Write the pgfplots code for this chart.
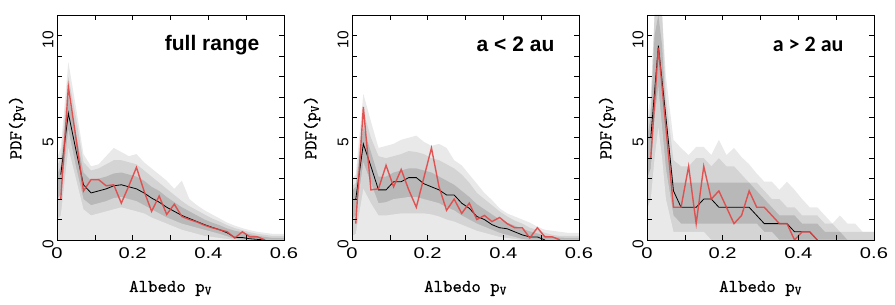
\documentclass[border=0pt]{standalone}
\usepackage{fontspec}
\usepackage{pgfplots}
\pgfplotsset{compat=1.18}
\usepackage{pgfplotstable}
\setmainfont{Liberation Sans}
\newfontfamily\xtickfont[FakeStretch=1.3]{Liberation Sans}
\newfontfamily\carlito{Carlito}
\newfontfamily\labfont[FakeBold=0.5]{lmmono10-regular.otf}
\definecolor{bandL}{gray}{0.915}
\definecolor{bandM}{gray}{0.83}
\definecolor{bandD}{gray}{0.72}
\definecolor{redl}{RGB}{226,70,70}

% ---------- panel 1: full range ----------
\pgfplotstableread{
x u3 u2 l2 u1 l1
0.00 4.0 3.6 1.0 3.2 2.0
0.01 4.5 4.0 1.2 3.6 2.2
0.03 8.7 8.0 4.5 7.0 5.4
0.05 6.5 6.0 3.0 5.2 3.6
0.07 4.2 3.8 1.5 3.3 2.0
0.09 3.6 3.4 1.2 2.9 1.7
0.11 3.7 3.5 1.3 3.0 1.8
0.13 4.1 3.7 1.4 3.1 1.9
0.15 4.5 3.9 1.5 3.25 2.05
0.17 4.3 3.9 1.6 3.3 2.1
0.19 4.1 3.8 1.5 3.2 2.0
0.21 4.2 3.7 1.4 3.1 1.9
0.23 3.8 3.4 1.3 2.9 1.7
0.25 3.5 3.1 1.1 2.6 1.5
0.27 3.2 2.8 0.95 2.4 1.3
0.29 2.9 2.5 0.8 2.1 1.1
0.31 2.5 2.2 0.65 1.85 0.95
0.33 2.9 1.9 0.5 1.6 0.8
0.35 2.0 1.65 0.4 1.4 0.7
0.37 1.7 1.45 0.3 1.2 0.6
0.39 1.45 1.25 0.2 1.0 0.5
0.41 1.25 1.05 0.15 0.85 0.4
0.43 1.05 0.9 0.1 0.72 0.3
0.45 0.85 0.72 0.05 0.56 0.18
0.47 0.7 0.58 0 0.45 0.05
0.49 0.58 0.48 0 0.38 0.02
0.51 0.48 0.38 0 0.28 0
0.53 0.4 0.3 0 0.2 0
0.55 0.35 0.25 0 0.15 0
0.57 0.3 0.2 0 0.1 0
0.59 0.3 0.2 0 0.1 0
0.60 0.3 0.2 0 0.1 0
}\bandA
\pgfplotstableread{
x blk red
0.01 3.2 2.0
0.03 6.2 7.5
0.05 4.4 5.0
0.07 2.7 2.4
0.09 2.3 2.95
0.11 2.4 2.95
0.13 2.5 2.65
0.15 2.65 2.7
0.17 2.7 1.8
0.19 2.6 2.65
0.21 2.5 3.55
0.23 2.3 2.4
0.25 2.05 1.4
0.27 1.85 2.15
0.29 1.6 1.25
0.31 1.4 1.75
0.33 1.2 1.15
0.35 1.05 1.0
0.37 0.9 0.88
0.39 0.75 0.72
0.41 0.62 0.6
0.43 0.5 0.5
0.45 0.35 0.4
0.47 0.12 0.1
0.49 0.12 0.4
0.51 0.06 0.15
0.53 0.03 0.15
0.55 0.0 0.0
}\lineA

% ---------- panel 2: a < 2 au ----------
\pgfplotstableread{
x u3 u2 l2 u1 l1
0.00 3.0 2.6 0.2 2.4 1.0
0.01 3.2 2.8 0.3 2.6 1.2
0.03 7.15 6.3 2.5 5.5 3.8
0.05 5.8 5.0 1.8 4.3 2.8
0.07 4.5 4.1 1.2 3.1 1.8
0.09 4.6 4.0 1.2 3.1 1.85
0.11 4.7 4.1 1.25 3.3 2.0
0.13 4.9 4.2 1.3 3.4 2.05
0.15 5.0 4.35 1.3 3.5 2.1
0.17 5.1 4.3 1.3 3.5 2.1
0.19 4.8 4.2 1.3 3.4 2.0
0.21 4.6 4.0 1.25 3.3 1.9
0.23 4.7 3.9 1.15 3.1 1.8
0.25 4.5 3.7 1.0 2.9 1.6
0.27 3.9 3.5 0.9 2.7 1.45
0.29 3.65 3.2 0.75 2.4 1.2
0.31 3.2 2.8 0.6 2.1 1.0
0.33 2.75 2.3 0.45 1.75 0.8
0.35 2.3 2.0 0.35 1.5 0.65
0.37 1.95 1.7 0.25 1.25 0.5
0.39 1.55 1.4 0.15 1.0 0.35
0.41 1.3 1.15 0.1 0.85 0.25
0.43 1.15 0.95 0.05 0.7 0.15
0.45 1.0 0.8 0 0.55 0.05
0.47 0.85 0.6 0 0.42 0
0.49 0.65 0.5 0 0.32 0
0.51 0.5 0.35 0 0.22 0
0.53 0.45 0.25 0 0.15 0
0.55 0.4 0.2 0 0.12 0
0.57 0.35 0.2 0 0.1 0
0.59 0.35 0.2 0 0.1 0
0.60 0.35 0.2 0 0.1 0
}\bandB
\pgfplotstableread{
x blk red
0.01 2.0 0.8
0.03 4.7 6.5
0.05 3.6 2.45
0.07 2.45 2.5
0.09 2.45 3.65
0.11 2.85 2.6
0.13 2.85 3.45
0.15 3.05 2.45
0.17 3.05 1.6
0.19 2.75 3.05
0.21 2.6 4.5
0.23 2.45 2.6
0.25 2.2 1.45
0.27 2.2 2.0
0.29 1.8 1.3
0.31 1.55 1.8
0.33 1.15 1.0
0.35 1.0 1.2
0.37 0.75 0.9
0.39 0.6 1.1
0.41 0.55 0.8
0.43 0.4 0.6
0.45 0.25 0.6
0.47 0.15 0.1
0.49 0.15 0.6
0.51 0.0 0.15
}\lineB
\pgfplotstableread{
x red
0.51 0.15
0.53 0.15
0.55 0.0
}\lineBtail

% ---------- panel 3: a > 2 au ----------
\pgfplotstableread{
x u3 u2 l2 u1 l1
0.00 6.0 5.5 1.5 5.0 3.0
0.01 7.0 6.5 2.0 6.0 3.5
0.02 11.0 11.0 4.0 10.0 6.0
0.03 11.0 11.0 5.5 11.0 7.5
0.04 11.0 11.0 4.0 9.5 5.5
0.05 8.0 7.0 2.0 6.0 3.5
0.07 4.9 3.9 0.4 2.8 1.2
0.09 4.5 3.6 0.4 2.8 0.8
0.11 4.15 3.6 0.4 2.8 0.8
0.13 4.55 4.0 0.4 2.8 0.8
0.15 4.55 4.0 0.4 2.8 0.8
0.17 4.15 3.6 0.0 2.8 0.8
0.19 4.9 4.0 0.0 2.8 0.8
0.21 4.15 3.6 0.0 2.8 0.8
0.23 4.5 3.6 0.0 2.8 0.8
0.25 4.05 3.2 0.0 2.8 0.8
0.27 3.7 2.8 0.0 2.8 0.8
0.29 3.25 2.8 0.0 2.4 0.8
0.31 2.85 2.4 0.0 2.0 0.4
0.33 2.85 2.0 0.0 1.6 0.4
0.35 2.45 2.0 0.0 1.2 0.0
0.37 2.85 1.6 0.0 1.2 0.0
0.39 2.45 1.6 0.0 1.2 0.0
0.41 2.0 1.2 0.0 0.8 0.0
0.43 1.6 1.2 0.0 0.8 0.0
0.45 1.6 1.2 0.0 0.8 0.0
0.47 1.2 0.8 0.0 0.4 0.0
0.49 0.8 0.8 0.0 0.4 0.0
0.51 1.2 0.4 0.0 0.4 0.0
0.53 0.8 0.4 0.0 0.0 0.0
0.55 0.8 0.4 0.0 0.0 0.0
0.57 0.4 0.4 0.0 0.0 0.0
0.59 0.4 0.4 0.0 0.0 0.0
0.60 0.4 0.4 0.0 0.0 0.0
}\bandC
\pgfplotstableread{
x blk red
0.01 5.0 4.0
0.03 9.5 9.4
0.05 6.0 5.5
0.07 2.4 1.6
0.09 1.6 1.6
0.11 1.6 3.6
0.13 1.6 0.8
0.15 2.0 3.6
0.17 2.0 2.0
0.19 1.6 2.4
0.21 1.6 1.6
0.23 1.6 0.8
0.25 1.6 1.2
0.27 1.6 2.4
0.29 1.2 1.6
0.31 0.8 1.6
0.33 0.8 1.2
0.35 0.8 0.8
0.37 0.8 0.8
0.39 0.4 0.0
0.41 0.4 0.4
0.43 0.4 0.4
0.45 0.0 0.0
}\lineC

\pgfplotsset{
  panel/.style={
    scale only axis, width=227pt, height=225pt,
    anchor=south west,
    xmin=0, xmax=0.6, ymin=0, ymax=11,
    xtick={0,0.2,0.4,0.6}, minor xtick={0.1,0.3,0.5},
    ytick={0,5,10}, minor ytick={1,2,3,4,6,7,8,9},
    major tick length=5pt, minor tick length=5pt,
    tick style={black, line width=0.6pt},
    axis line style={line width=0.7pt},
    axis on top,
    /pgf/number format/assume math mode=true,
    xticklabel style={font=\xtickfont\fontsize{15.5}{16}\selectfont, yshift=-4pt},
    yticklabel style={font=\fontsize{15.5}{16}\selectfont, rotate=90, anchor=south, xshift=-4pt},
    xlabel={Albedo p\textsubscript{V}},
    ylabel={PDF(p\textsubscript{V})},
    label style={font=\labfont\fontsize{18}{20}\selectfont},
    xlabel style={at={(axis description cs:0.5,-0.215)}, anchor=center},
    ylabel style={at={(axis description cs:-0.176,0.5)}, anchor=center},
  },
}

\begin{document}
\begin{tikzpicture}
\useasboundingbox (0,0) rectangle (895pt,305pt);

\begin{axis}[panel, at={(57pt,65pt)}]
  \addplot[draw=none, fill=bandL] table[x=x,y=u3]{\bandA} \closedcycle;
  \addplot[draw=none, fill=bandM] table[x=x,y=u2]{\bandA} \closedcycle;
  \addplot[draw=none, fill=bandD] table[x=x,y=u1]{\bandA} \closedcycle;
  \addplot[draw=none, fill=bandM] table[x=x,y=l1]{\bandA} \closedcycle;
  \addplot[draw=none, fill=bandL] table[x=x,y=l2]{\bandA} \closedcycle;
  \addplot[black, line width=0.8pt] table[x=x,y=blk]{\lineA};
  \addplot[redl, line width=1.4pt, opacity=0.9] table[x=x,y=red]{\lineA};
  \node[anchor=base east, font=\bfseries\fontsize{21}{22}\selectfont] at (rel axis cs:0.907,0.844) {full range};
\end{axis}

\begin{axis}[panel, at={(352pt,65pt)}]
  \addplot[draw=none, fill=bandL] table[x=x,y=u3]{\bandB} \closedcycle;
  \addplot[draw=none, fill=bandM] table[x=x,y=u2]{\bandB} \closedcycle;
  \addplot[draw=none, fill=bandD] table[x=x,y=u1]{\bandB} \closedcycle;
  \addplot[draw=none, fill=bandM] table[x=x,y=l1]{\bandB} \closedcycle;
  \addplot[draw=none, fill=bandL] table[x=x,y=l2]{\bandB} \closedcycle;
  \addplot[black, line width=0.8pt] table[x=x,y=blk]{\lineB};
  \addplot[redl, line width=1.4pt, opacity=0.9] table[x=x,y=red]{\lineB};
  \addplot[redl, line width=1.4pt, opacity=0.9] table[x=x,y=red]{\lineBtail};
  \node[anchor=base east, font=\bfseries\fontsize{21}{22}\selectfont] at (rel axis cs:0.907,0.836) {a < 2 au};
\end{axis}

\begin{axis}[panel, at={(647pt,65pt)}]
  \addplot[draw=none, fill=bandL] table[x=x,y=u3]{\bandC} \closedcycle;
  \addplot[draw=none, fill=bandM] table[x=x,y=u2]{\bandC} \closedcycle;
  \addplot[draw=none, fill=bandD] table[x=x,y=u1]{\bandC} \closedcycle;
  \addplot[draw=none, fill=bandM] table[x=x,y=l1]{\bandC} \closedcycle;
  \addplot[draw=none, fill=bandL] table[x=x,y=l2]{\bandC} \closedcycle;
  \addplot[black, line width=0.8pt] table[x=x,y=blk]{\lineC};
  \addplot[redl, line width=1.4pt, opacity=0.9] table[x=x,y=red]{\lineC};
  \node[anchor=base east, font=\carlito\bfseries\fontsize{22}{23}\selectfont] at (rel axis cs:0.881,0.836) {a > 2 au};
\end{axis}
\end{tikzpicture}
\end{document}
